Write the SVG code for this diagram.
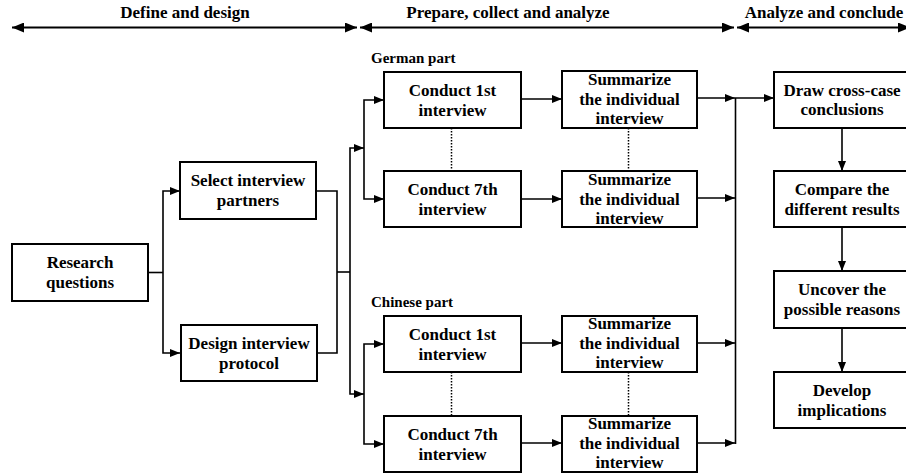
<svg xmlns="http://www.w3.org/2000/svg" width="906" height="473" viewBox="0 0 906 473">
<style>
  .box { fill: #ffffff; stroke: #000000; stroke-width: 2; }
  .t { font-family: "Liberation Serif", "DejaVu Serif", serif; font-weight: bold; font-size: 17px; fill: #000000; text-anchor: middle; }
  .lbl { font-family: "Liberation Serif", "DejaVu Serif", serif; font-weight: bold; font-size: 15px; fill: #000000; }
  .c { fill: none; stroke: #000000; stroke-width: 1.6; }
  .h { fill: none; stroke: #000000; stroke-width: 2; }
  .dot { fill: none; stroke: #000000; stroke-width: 1.5; stroke-dasharray: 1.5 1.5; }
</style>
<defs>
  <marker id="a" viewBox="0 0 10 8" refX="10" refY="4" markerWidth="10" markerHeight="8" markerUnits="userSpaceOnUse" orient="auto-start-reverse">
    <path d="M0,0 L10,4 L0,8 Z" fill="#000000"/>
  </marker>
  <marker id="ah" viewBox="0 0 12 10" refX="12" refY="5" markerWidth="12" markerHeight="10" markerUnits="userSpaceOnUse" orient="auto-start-reverse">
    <path d="M0,0 L12,5 L0,10 Z" fill="#000000"/>
  </marker>
</defs>
<rect width="906" height="473" fill="#ffffff"/>

<g id="phases">
  <text class="t" x="185" y="18">Define and design</text>
  <text class="t" x="508" y="18">Prepare, collect and analyze</text>
  <text class="t" x="824" y="18">Analyze and conclude</text>
  <line class="h" x1="12" y1="27.5" x2="357" y2="27.5" marker-start="url(#ah)" marker-end="url(#ah)"/>
  <line class="h" x1="360" y1="27.5" x2="734" y2="27.5" marker-start="url(#ah)" marker-end="url(#ah)"/>
  <line class="h" x1="737" y1="27.5" x2="910" y2="27.5" marker-start="url(#ah)" marker-end="url(#ah)"/>
</g>

<g id="labels">
  <text class="lbl" x="371" y="63">German part</text>
  <text class="lbl" x="371" y="307">Chinese part</text>
</g>

<g id="connectors">
  <polyline class="c" points="148,272.5 163,272.5"/>
  <polyline class="c" points="180,191 163,191 163,353 180,353" marker-start="url(#a)" marker-end="url(#a)"/>
  <polyline class="c" points="316,191 337,191 337,353 317,353"/>
  <polyline class="c" points="337,272 350,272"/>
  <polyline class="c" points="364,148 350,148 350,394 364,394" marker-start="url(#a)" marker-end="url(#a)"/>
  <polyline class="c" points="384,100 364,100 364,199 384,199" marker-start="url(#a)" marker-end="url(#a)"/>
  <polyline class="c" points="384,344 364,344 364,444 384,444" marker-start="url(#a)" marker-end="url(#a)"/>
  <line class="c" x1="522" y1="99" x2="562" y2="99" marker-end="url(#a)"/>
  <line class="c" x1="522" y1="199" x2="562" y2="199" marker-end="url(#a)"/>
  <line class="c" x1="522" y1="343" x2="562" y2="343" marker-end="url(#a)"/>
  <line class="c" x1="522" y1="443" x2="562" y2="443" marker-end="url(#a)"/>
  <line class="dot" x1="451.5" y1="128" x2="451.5" y2="171"/>
  <line class="dot" x1="628.5" y1="128" x2="628.5" y2="171"/>
  <line class="dot" x1="451.5" y1="372" x2="451.5" y2="416"/>
  <line class="dot" x1="628.5" y1="372" x2="628.5" y2="416"/>
  <line class="c" x1="697" y1="98" x2="735" y2="98" marker-end="url(#a)"/>
  <line class="c" x1="697" y1="198" x2="735" y2="198" marker-end="url(#a)"/>
  <line class="c" x1="697" y1="343" x2="735" y2="343" marker-end="url(#a)"/>
  <line class="c" x1="697" y1="443" x2="735" y2="443" marker-end="url(#a)"/>
  <line class="c" x1="735.5" y1="98" x2="735.5" y2="444"/>
  <line class="c" x1="735" y1="98" x2="774" y2="98" marker-end="url(#a)"/>
  <line class="c" x1="842" y1="128" x2="842" y2="171" marker-end="url(#a)"/>
  <line class="c" x1="842" y1="227" x2="842" y2="271" marker-end="url(#a)"/>
  <line class="c" x1="842" y1="328" x2="842" y2="372" marker-end="url(#a)"/>
</g>

<g id="research">
  <rect class="box" x="12" y="244" width="136" height="57"/>
  <text class="t" x="80" y="268">Research</text>
  <text class="t" x="80" y="287.5">questions</text>
</g>
<g id="select">
  <rect class="box" x="180" y="162" width="136" height="57"/>
  <text class="t" x="248" y="186">Select interview</text>
  <text class="t" x="248" y="206">partners</text>
</g>
<g id="design">
  <rect class="box" x="181" y="325" width="136" height="56"/>
  <text class="t" x="249" y="349">Design interview</text>
  <text class="t" x="249" y="369">protocol</text>
</g>

<g id="de-conduct1">
  <rect class="box" x="384" y="72" width="137" height="56"/>
  <text class="t" x="452.5" y="96">Conduct 1st</text>
  <text class="t" x="452.5" y="115.5">interview</text>
</g>
<g id="de-conduct7">
  <rect class="box" x="384" y="171" width="137" height="56"/>
  <text class="t" x="452.5" y="195">Conduct 7th</text>
  <text class="t" x="452.5" y="214.5">interview</text>
</g>
<g id="de-sum1">
  <rect class="box" x="562" y="71" width="135" height="57"/>
  <text class="t" x="629.5" y="85">Summarize</text>
  <text class="t" x="629.5" y="104.5">the individual</text>
  <text class="t" x="629.5" y="124">interview</text>
</g>
<g id="de-sum7">
  <rect class="box" x="562" y="171" width="135" height="56"/>
  <text class="t" x="629.5" y="185">Summarize</text>
  <text class="t" x="629.5" y="204.5">the individual</text>
  <text class="t" x="629.5" y="224">interview</text>
</g>

<g id="cn-conduct1">
  <rect class="box" x="384" y="316" width="137" height="56"/>
  <text class="t" x="452.5" y="340">Conduct 1st</text>
  <text class="t" x="452.5" y="359.5">interview</text>
</g>
<g id="cn-conduct7">
  <rect class="box" x="384" y="416" width="137" height="56"/>
  <text class="t" x="452.5" y="440">Conduct 7th</text>
  <text class="t" x="452.5" y="459.5">interview</text>
</g>
<g id="cn-sum1">
  <rect class="box" x="562" y="316" width="135" height="56"/>
  <text class="t" x="629.5" y="329">Summarize</text>
  <text class="t" x="629.5" y="348.5">the individual</text>
  <text class="t" x="629.5" y="368">interview</text>
</g>
<g id="cn-sum7">
  <rect class="box" x="562" y="416" width="135" height="56"/>
  <text class="t" x="629.5" y="429">Summarize</text>
  <text class="t" x="629.5" y="448.5">the individual</text>
  <text class="t" x="629.5" y="468">interview</text>
</g>

<g id="draw">
  <rect class="box" x="774" y="72" width="136" height="56"/>
  <text class="t" x="842" y="96">Draw cross-case</text>
  <text class="t" x="842" y="115">conclusions</text>
</g>
<g id="compare">
  <rect class="box" x="774" y="171" width="136" height="56"/>
  <text class="t" x="842" y="195">Compare the</text>
  <text class="t" x="842" y="214.5">different results</text>
</g>
<g id="uncover">
  <rect class="box" x="774" y="271" width="136" height="57"/>
  <text class="t" x="842" y="295">Uncover the</text>
  <text class="t" x="842" y="314.5">possible reasons</text>
</g>
<g id="develop">
  <rect class="box" x="774" y="372" width="136" height="56"/>
  <text class="t" x="842" y="396">Develop</text>
  <text class="t" x="842" y="415.5">implications</text>
</g>
</svg>
